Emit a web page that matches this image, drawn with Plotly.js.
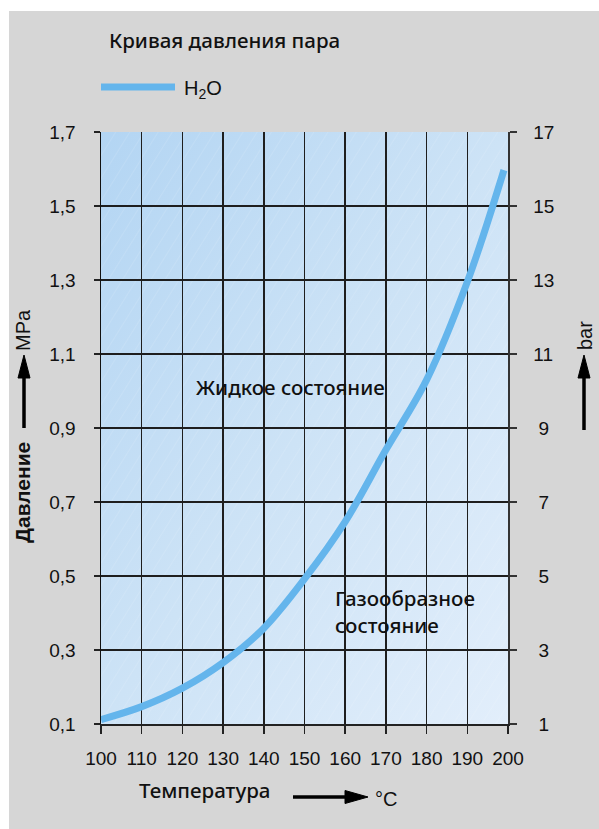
<!DOCTYPE html>
<html>
<head>
<meta charset="utf-8">
<script src="https://cdn.plot.ly/plotly-3.0.1.min.js"></script>
<style>
html,body{margin:0;padding:0;background:#ffffff;}
#chart{position:absolute;left:9px;top:11px;width:590px;height:818px;}
</style>
</head>
<body>
<div id="chart"></div>
<script>
// Data
const temperatureC = [100, 110, 120, 130, 140, 150, 160, 170, 180, 190, 199];
const pressureMPa  = [0.112, 0.147, 0.197, 0.266, 0.359, 0.492, 0.647, 0.841, 1.03, 1.295, 1.597];
const mpaTicks = [0.1, 0.3, 0.5, 0.7, 0.9, 1.1, 1.3, 1.5, 1.7];
const mpaTickText = ["0,1", "0,3", "0,5", "0,7", "0,9", "1,1", "1,3", "1,5", "1,7"];
const barTicks = [1, 3, 5, 7, 9, 11, 13, 15, 17];
const barTickText = ["&nbsp;1", "&nbsp;3", "&nbsp;5", "&nbsp;7", "&nbsp;9", "11", "13", "15", "17"];
const tempTicks = [100, 110, 120, 130, 140, 150, 160, 170, 180, 190, 200];

const headFont = "'Noto Sans', 'DejaVu Sans', sans-serif";
const tickFont = "'Liberation Sans', Arial, sans-serif";

const svg = "<svg xmlns='http://www.w3.org/2000/svg' width='407' height='592' viewBox='0 0 407 592' preserveAspectRatio='none'>" +
  "<defs><linearGradient id='g' x1='0' y1='0' x2='1' y2='1'>" +
  "<stop offset='0' stop-color='#b3d5f3'/><stop offset='0.5' stop-color='#cde3f6'/><stop offset='1' stop-color='#e2eefb'/></linearGradient>" +
  "<pattern id='p' width='12' height='12' patternUnits='userSpaceOnUse' patternTransform='rotate(32)'>" +
  "<line x1='0' y1='0' x2='0' y2='12' stroke='#ffffff' stroke-opacity='0.22' stroke-width='1'/></pattern></defs>" +
  "<rect width='407' height='592' fill='url(#g)'/><rect width='407' height='592' fill='url(#p)'/></svg>";
const bgUri = "data:image/svg+xml;charset=utf-8," + encodeURIComponent(svg);

const traces = [
  {
    x: temperatureC, y: pressureMPa, type: "scatter", mode: "lines",
    name: "H<sub>2</sub>O",
    line: {color: "#64b5ec", width: 7, shape: "spline", smoothing: 1},
    hoverinfo: "x+y", showlegend: false
  },
  {
    x: [null], y: [null], yaxis: "y2", type: "scatter", mode: "lines",
    showlegend: false, hoverinfo: "skip"
  }
];

function px2x(px){ return (px - 101) / 407; }
function px2y(py){ return (724 - py) / 592; }
function polyPath(pts){
  return "M" + pts.map(p => px2x(p[0]) + "," + px2y(p[1])).join(" L") + " Z";
}
function lineShape(x0, y0, x1, y1){
  return {type: "line", xref: "paper", yref: "paper",
    x0: px2x(x0), y0: px2y(y0), x1: px2x(x1), y1: px2y(y1),
    line: {color: "#000000", width: 3.5}};
}
function headShape(pts){
  return {type: "path", xref: "paper", yref: "paper", path: polyPath(pts),
    fillcolor: "#000000", line: {color: "#000000", width: 1}};
}

const layout = {
  width: 590, height: 818,
  margin: {l: 92, r: 91, t: 121, b: 105, pad: 0},
  paper_bgcolor: "#d6d6d6",
  plot_bgcolor: "rgba(0,0,0,0)",
  showlegend: false,
  title: {
    text: "Кривая давления пара",
    font: {family: headFont, size: 20.5, color: "#111111", weight: 500},
    x: 100/590, xanchor: "left", xref: "container",
    y: 1 - 30/818, yanchor: "middle", yref: "container"
  },
  xaxis: {
    range: [100, 200],
    tickvals: tempTicks, ticktext: tempTicks.map(String),
    ticks: "outside", ticklen: 8, tickwidth: 1.5, tickcolor: "#222222",
    showgrid: true, gridcolor: "#1e1e1e", gridwidth: 1.5,
    showline: true, linecolor: "#222222", linewidth: 1.5, mirror: false,
    zeroline: false, ticklabelstandoff: 9,
    tickfont: {family: tickFont, size: 19, color: "#111111"},
    fixedrange: true
  },
  yaxis: {
    range: [0.1, 1.7],
    tickvals: mpaTicks, ticktext: mpaTickText,
    ticks: "outside", ticklen: 6, tickwidth: 1.5, tickcolor: "#222222",
    showgrid: true, gridcolor: "#1e1e1e", gridwidth: 1.5,
    showline: true, linecolor: "#111111", linewidth: 1.5,
    zeroline: false, ticklabelstandoff: 14,
    tickfont: {family: tickFont, size: 19, color: "#111111"},
    fixedrange: true
  },
  yaxis2: {
    range: [1, 17], overlaying: "y", side: "right",
    tickvals: barTicks, ticktext: barTickText,
    ticks: "outside", ticklen: 7, tickwidth: 1.5, tickcolor: "#333333",
    showgrid: false, showline: true, linecolor: "#333333", linewidth: 1.5,
    zeroline: false, ticklabelstandoff: 13,
    tickfont: {family: tickFont, size: 19, color: "#111111"},
    fixedrange: true
  },
  images: [{
    source: bgUri, xref: "paper", yref: "paper",
    x: 0, y: 1, sizex: 1, sizey: 1, xanchor: "left", yanchor: "top",
    sizing: "stretch", layer: "below"
  }],
  shapes: [
    {type: "line", xref: "paper", yref: "paper",
     x0: px2x(101), x1: px2x(175), y0: px2y(87), y1: px2y(87),
     line: {color: "#64b5ec", width: 7}},
    // left arrow
    lineShape(24, 428, 24, 372),
    headShape([[24, 355], [18, 378], [30, 378]]),
    // right arrow
    lineShape(584, 430, 584, 372),
    headShape([[584, 355], [578, 378], [590, 378]]),
    // bottom arrow
    lineShape(293, 797, 348, 797),
    headShape([[368, 797], [345, 790.5], [345, 803.5]])
  ],
  annotations: [
    {text: "H<sub>2</sub>O", xref: "paper", yref: "paper", x: px2x(182), y: px2y(89),
     xanchor: "left", yanchor: "middle", showarrow: false,
     font: {family: tickFont, size: 20, color: "#111111"}},
    {text: "Жидкое состояние", xref: "x", yref: "y", x: 122.8, y: 1.011,
     xanchor: "left", yanchor: "middle", showarrow: false,
     font: {family: headFont, size: 20.5, color: "#111111", weight: 500}},
    {text: "Газообразное<br>состояние", xref: "x", yref: "y", x: 157.0, y: 0.403,
     xanchor: "left", yanchor: "middle", align: "left", showarrow: false,
     font: {family: headFont, size: 20.5, color: "#111111", weight: 500}},
    // left axis title
    {text: "Давление", xref: "paper", yref: "paper", x: px2x(22), y: px2y(493),
     textangle: -90, showarrow: false, xanchor: "center", yanchor: "middle",
     font: {family: tickFont, size: 21, color: "#111111", weight: 700}},
    {text: "MPa", xref: "paper", yref: "paper", x: px2x(23), y: px2y(330),
     textangle: -90, showarrow: false, xanchor: "center", yanchor: "middle",
     font: {family: tickFont, size: 20, color: "#111111"}},
    // right axis title
    {text: "bar", xref: "paper", yref: "paper", x: px2x(585), y: px2y(336),
     textangle: -90, showarrow: false, xanchor: "center", yanchor: "middle",
     font: {family: tickFont, size: 20, color: "#111111"}},
    // bottom axis title
    {text: "Температура", xref: "paper", yref: "paper", x: px2x(204), y: px2y(790),
     showarrow: false, xanchor: "center", yanchor: "middle",
     font: {family: headFont, size: 20.5, color: "#111111", weight: 500}},
    {text: "°C", xref: "paper", yref: "paper", x: px2x(373), y: px2y(799),
     showarrow: false, xanchor: "left", yanchor: "middle",
     font: {family: tickFont, size: 20, color: "#111111"}}
  ]
};

Plotly.newPlot("chart", traces, layout, {displayModeBar: false, staticPlot: true});
</script>
</body>
</html>
